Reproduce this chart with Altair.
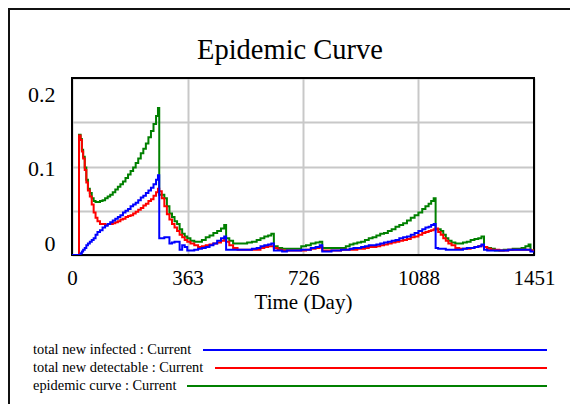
import altair as alt
import pandas as pd

# ---------------- data ----------------
days = [
    0, 22, 27, 31, 35, 40, 45, 50, 56, 62, 68, 74, 80, 88, 96, 104, 112, 120, 128, 136,
    144, 152, 160, 168, 176, 184, 192, 200, 208, 216, 224, 232, 240, 248, 256, 264, 270,
    274, 282, 290, 298, 306, 314, 322, 330, 338, 346, 354, 362, 372, 384, 396, 408, 420, 432, 444, 456, 468, 478,
    484, 494, 506, 520, 535, 550, 565, 580, 592, 604, 616, 626,
    634, 646, 660, 675, 690, 705, 720, 735, 750, 765, 778,
    786, 800, 815, 830, 845, 860, 872, 884, 896, 908, 920, 932, 944, 956, 968, 980, 992, 1004, 1016, 1028,
    1040, 1052, 1064, 1076, 1088, 1100, 1110, 1120, 1128, 1136,
    1142, 1150, 1158, 1166, 1174, 1182, 1192, 1204, 1216, 1228, 1240, 1252, 1264, 1276, 1286,
    1294, 1304, 1316, 1328, 1342, 1356, 1370, 1384, 1398, 1412, 1424, 1434,
    1440, 1451,
]

total_new_infected = [
    0, 0, 0.002, 0.004, 0.006, 0.008, 0.011, 0.013, 0.015, 0.017, 0.019, 0.023, 0.026, 0.028, 0.031, 0.033, 0.035, 0.037, 0.039, 0.041,
    0.043, 0.045, 0.048, 0.050, 0.052, 0.055, 0.057, 0.059, 0.062, 0.065, 0.067, 0.070, 0.073, 0.076, 0.080, 0.085, 0.090,
    0.019, 0.019, 0.020, 0.020, 0.013, 0.014, 0.015, 0.015, 0.006, 0.011, 0.009, 0.005, 0.005, 0.006, 0.007, 0.008, 0.009, 0.011, 0.013, 0.016, 0.019, 0.021,
    0.006, 0.006, 0.006, 0.006, 0.006, 0.006, 0.007, 0.008, 0.010, 0.011, 0.012, 0.013,
    0.005, 0.005, 0.004, 0.005, 0.005, 0.005, 0.006, 0.006, 0.008, 0.009, 0.011,
    0.004, 0.004, 0.005, 0.005, 0.006, 0.006, 0.007, 0.008, 0.008, 0.009, 0.010, 0.011, 0.011, 0.012, 0.013, 0.014, 0.015, 0.016, 0.017, 0.019,
    0.020, 0.021, 0.023, 0.025, 0.027, 0.029, 0.031, 0.032, 0.034, 0.035,
    0.008, 0.007, 0.007, 0.007, 0.006, 0.006, 0.006, 0.006, 0.006, 0.007, 0.008, 0.008, 0.009, 0.010, 0.012,
    0.006, 0.005, 0.005, 0.005, 0.005, 0.005, 0.006, 0.006, 0.006, 0.006, 0.006, 0.006,
    0.004, 0.004,
]

total_new_detectable = [
    0, 0.135, 0.130, 0.117, 0.109, 0.096, 0.082, 0.073, 0.066, 0.057, 0.048, 0.042, 0.038, 0.035, 0.035, 0.034, 0.035, 0.035, 0.036, 0.037,
    0.038, 0.040, 0.041, 0.043, 0.044, 0.045, 0.047, 0.049, 0.051, 0.053, 0.056, 0.058, 0.061, 0.063, 0.067, 0.071, 0.075,
    0.072, 0.064, 0.055, 0.046, 0.040, 0.035, 0.031, 0.027, 0.023, 0.020, 0.017, 0.015, 0.013, 0.011, 0.009, 0.010, 0.011, 0.012, 0.013, 0.014, 0.016, 0.017,
    0.015, 0.011, 0.008, 0.006, 0.006, 0.006, 0.006, 0.006, 0.008, 0.009, 0.010, 0.010,
    0.008, 0.006, 0.005, 0.005, 0.005, 0.005, 0.005, 0.006, 0.007, 0.008, 0.009,
    0.005, 0.005, 0.005, 0.005, 0.006, 0.006, 0.006, 0.006, 0.007, 0.007, 0.008, 0.009, 0.009, 0.010, 0.011, 0.012, 0.013, 0.014, 0.015, 0.016,
    0.017, 0.018, 0.020, 0.021, 0.023, 0.025, 0.026, 0.027, 0.028, 0.029,
    0.030, 0.026, 0.023, 0.019, 0.016, 0.013, 0.011, 0.008, 0.007, 0.007, 0.007, 0.008, 0.009, 0.010, 0.011,
    0.009, 0.007, 0.006, 0.006, 0.005, 0.005, 0.006, 0.006, 0.006, 0.006, 0.006, 0.006,
    0.005, 0.005,
]

epidemic_curve = [
    0, 0.136, 0.131, 0.119, 0.111, 0.099, 0.085, 0.075, 0.070, 0.064, 0.061, 0.060, 0.060, 0.061, 0.062, 0.064, 0.066, 0.068, 0.071, 0.074,
    0.077, 0.080, 0.083, 0.087, 0.091, 0.095, 0.099, 0.104, 0.109, 0.115, 0.120, 0.126, 0.133, 0.140, 0.148, 0.157, 0.166,
    0.068, 0.068, 0.064, 0.055, 0.047, 0.043, 0.038, 0.035, 0.029, 0.024, 0.021, 0.019, 0.016, 0.015, 0.015, 0.017, 0.020, 0.022, 0.025, 0.027, 0.030, 0.034,
    0.019, 0.016, 0.013, 0.013, 0.013, 0.014, 0.015, 0.017, 0.019, 0.021, 0.022, 0.024,
    0.010, 0.008, 0.007, 0.007, 0.007, 0.007, 0.010, 0.011, 0.013, 0.014, 0.015,
    0.008, 0.008, 0.008, 0.008, 0.008, 0.010, 0.012, 0.013, 0.014, 0.015, 0.017, 0.019, 0.020, 0.022, 0.024, 0.025, 0.027, 0.029, 0.032, 0.034,
    0.036, 0.039, 0.042, 0.045, 0.048, 0.052, 0.055, 0.058, 0.061, 0.064,
    0.029, 0.029, 0.027, 0.023, 0.019, 0.016, 0.014, 0.013, 0.013, 0.014, 0.015, 0.017, 0.018, 0.019, 0.021,
    0.009, 0.008, 0.007, 0.005, 0.005, 0.006, 0.006, 0.007, 0.007, 0.008, 0.010, 0.012,
    0.005, 0.005,
]

series_names = ["total new infected", "total new detectable", "epidemic curve"]
series_colors = ["#0000ff", "#ff0000", "#008000"]
x_tick_values = [0, 363, 726, 1088, 1451]
y_grid_values = [0, 0.05, 0.1, 0.15, 0.2]

assert len(days) == len(total_new_infected) == len(total_new_detectable) == len(epidemic_curve)

rows = []
for name, vals in zip(series_names, [total_new_infected, total_new_detectable, epidemic_curve]):
    for d, v in zip(days, vals):
        rows.append({"day": d, "value": v, "series": name})
df = pd.DataFrame(rows)

# ---------------- layout ----------------
W, H = 462, 177
FONT = "'Liberation Serif', 'Times New Roman', Times, 'DejaVu Serif', serif"
LEGEND = {
    "text_x": -39,
    "rows_y": [272, 308],
    "line_start": [131, 143, 115],
    "line_end": 475,
}

color_scale = alt.Scale(domain=series_names, range=series_colors)

x_enc = alt.X(
    "day:Q",
    scale=alt.Scale(domain=[0, 1451], nice=False, zero=False),
    axis=alt.Axis(values=x_tick_values, title="Time (Day)", format="d",
                  labelFlush=False, labelOverlap=False, labelPadding=12,
                  labelFontSize=21, titleFontSize=21, titlePadding=3),
)
y_enc = alt.Y(
    "value:Q",
    scale=alt.Scale(domain=[0, 0.2], nice=False),
    axis=alt.Axis(
        values=y_grid_values, title=None, labelFlush=False, labelOverlap=False,
        labelExpr="datum.value == 0.2 ? '0.2' : datum.value == 0.1 ? '0.1' : datum.value == 0 ? '0' : ''",
        labelPadding=17, labelFontSize=22,
        labelOffset={"condition": [{"test": "datum.value == 0.2", "value": 16},
                                   {"test": "datum.value == 0", "value": -12}],
                     "value": 2},
    ),
)


def series_line(name):
    return (
        alt.Chart(df)
        .transform_filter(alt.datum.series == name)
        .mark_line(interpolate="step-after", strokeWidth=2, clip=True)
        .encode(x=x_enc, y=y_enc,
                color=alt.Color("series:N", scale=color_scale, legend=None))
    )


plot_border = alt.Chart(df).mark_rect(fill=None, stroke="black", strokeWidth=2).encode(
    x=alt.value(0), x2=alt.value(W), y=alt.value(0), y2=alt.value(H))

lines = alt.layer(plot_border,
                  series_line("epidemic curve"),
                  series_line("total new detectable"),
                  series_line("total new infected"))

leg_df = pd.DataFrame({
    "series": series_names,
    "label": [n + " : Current" for n in series_names],
    "x0": LEGEND["line_start"],
})
leg_y = alt.Y("series:N",
              scale=alt.Scale(type="point", domain=series_names, range=LEGEND["rows_y"], padding=0),
              axis=None)

legend_text = alt.Chart(leg_df).mark_text(
    align="left", baseline="middle", font=FONT, fontSize=14.4, color="black"
).encode(x=alt.value(LEGEND["text_x"]), y=leg_y, text="label:N")

legend_lines = alt.Chart(leg_df).mark_rule(strokeWidth=2).encode(
    x=alt.X("x0:Q", scale=None, axis=None),
    x2=alt.value(LEGEND["line_end"]),
    y=leg_y,
    color=alt.Color("series:N", scale=color_scale, legend=None),
)

frame_left = alt.Chart(leg_df).mark_rule(color="#111", strokeWidth=2).encode(
    x=alt.value(-63), y=alt.value(-69), y2=alt.value(H + 149))
frame_top = alt.Chart(leg_df).mark_rule(color="#111", strokeWidth=2).encode(
    y=alt.value(-69), x=alt.value(-64), x2=alt.value(W + 36))

chart = (
    alt.layer(lines, legend_text, legend_lines, frame_left, frame_top)
    .resolve_scale(x="independent", y="independent")
    .properties(
        width=W, height=H,
        autosize=alt.AutoSizeParams(type="none"),
        padding={"left": 64, "top": 70, "right": 36, "bottom": 149},
        background="white",
        title=alt.Title("Epidemic Curve", font=FONT, fontSize=28.5, fontWeight="normal",
                        color="black", offset=-56, dx=-13, anchor="middle", frame="group"),
    )
    .configure(font=FONT)
    .configure_view(stroke=None)
    .configure_axis(
        labelFont=FONT, labelColor="black",
        titleFont=FONT, titleFontWeight="normal", titleColor="black",
        gridColor="#c8c8c8", gridWidth=2, gridOpacity=1,
        domain=False, ticks=False, tickSize=0,
    )
)

chart.save("out.html", embed_options={"renderer": "svg", "actions": False})
